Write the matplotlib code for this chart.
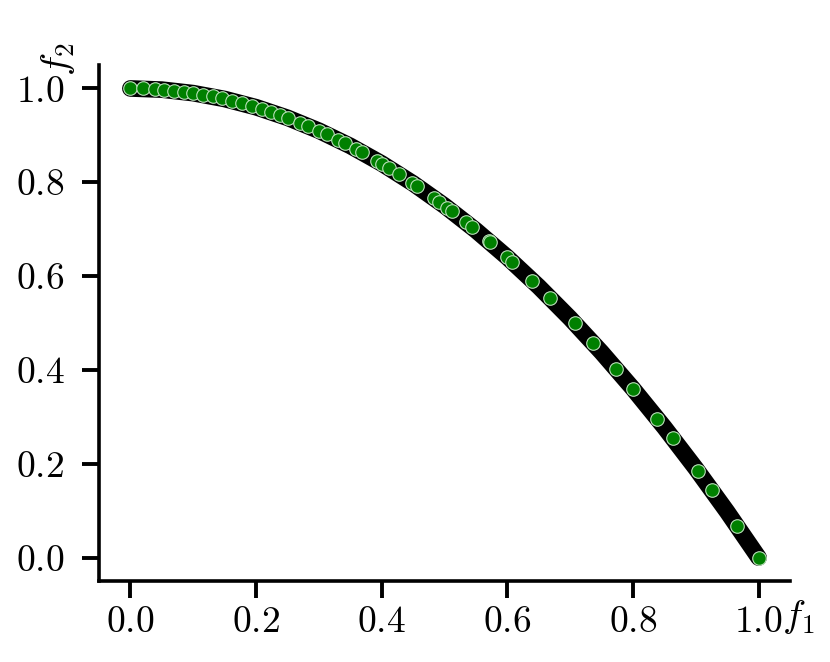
import matplotlib
matplotlib.use("Agg")
import matplotlib.pyplot as plt

plt.rcParams['font.family'] = ['cmr10', 'DejaVu Serif']
plt.rcParams['mathtext.fontset'] = 'cm'
plt.rcParams['axes.formatter.use_mathtext'] = True
plt.rcParams['axes.unicode_minus'] = False

# True Pareto front
front_f1 = [0.00, 0.05, 0.10, 0.15, 0.20, 0.25, 0.30, 0.35, 0.40, 0.45, 0.50,
            0.55, 0.60, 0.65, 0.70, 0.75, 0.80, 0.85, 0.90, 0.95, 1.00]
front_f2 = [1.000, 0.9975, 0.990, 0.9775, 0.960, 0.9375, 0.910, 0.8775, 0.840, 0.7975, 0.750,
            0.6975, 0.640, 0.5775, 0.510, 0.4375, 0.360, 0.2775, 0.190, 0.0975, 0.000]

# Obtained solutions (green points)
sol_f1 = [0.000, 0.020, 0.039, 0.054, 0.070, 0.086, 0.100, 0.115, 0.131, 0.146,
          0.162, 0.177, 0.193, 0.209, 0.224, 0.238, 0.251, 0.270, 0.283, 0.301,
          0.313, 0.331, 0.342, 0.359, 0.369, 0.392, 0.400, 0.411, 0.427, 0.448,
          0.456, 0.483, 0.491, 0.504, 0.512, 0.534, 0.543, 0.571, 0.573, 0.600,
          0.608, 0.640, 0.668, 0.707, 0.736, 0.773, 0.800, 0.839, 0.863, 0.903,
          0.926, 0.966, 1.000]
sol_f2 = [1.000, 1.000, 0.998, 0.997, 0.995, 0.993, 0.990, 0.987, 0.983, 0.979,
          0.974, 0.969, 0.963, 0.956, 0.950, 0.943, 0.937, 0.927, 0.920, 0.909,
          0.902, 0.890, 0.883, 0.871, 0.864, 0.846, 0.840, 0.831, 0.818, 0.799,
          0.792, 0.767, 0.759, 0.746, 0.738, 0.715, 0.705, 0.674, 0.672, 0.640,
          0.630, 0.590, 0.554, 0.500, 0.458, 0.402, 0.360, 0.296, 0.255, 0.185,
          0.143, 0.067, 0.000]

ticks = [0.0, 0.2, 0.4, 0.6, 0.8, 1.0]

fig = plt.figure(figsize=(8.3, 6.62), dpi=100)
ax = fig.add_axes([99/830, 1-581/662, (790-99)/830, (581-65)/662])

ax.plot(front_f1, front_f2, color='black', lw=12, solid_capstyle='round',
        solid_joinstyle='round', zorder=2)
ax.scatter(sol_f1, sol_f2, s=95, color='green', edgecolors='#b8e0b8',
           linewidths=0.8, zorder=3)

ax.set_xlim(-0.05, 1.05)
ax.set_ylim(-0.05, 1.05)
ax.set_xticks(ticks)
ax.set_yticks(ticks)
ax.spines['top'].set_visible(False)
ax.spines['right'].set_visible(False)
for s in ['left', 'bottom']:
    ax.spines[s].set_linewidth(2.6)
ax.tick_params(axis='both', width=2.8, length=12, labelsize=27)
ax.tick_params(axis='x', pad=6)
ax.tick_params(axis='y', pad=13)

ax.set_xlabel(r'$f_1$', fontsize=28)
ax.set_ylabel(r'$f_2$', fontsize=28)
ax.xaxis.set_label_coords(1.012, -0.07)
ax.xaxis.label.set_verticalalignment('center')
ax.yaxis.set_label_coords(-0.059, 1.01)
ax.yaxis.label.set_verticalalignment('center')

fig.savefig('out.png', dpi=100)
